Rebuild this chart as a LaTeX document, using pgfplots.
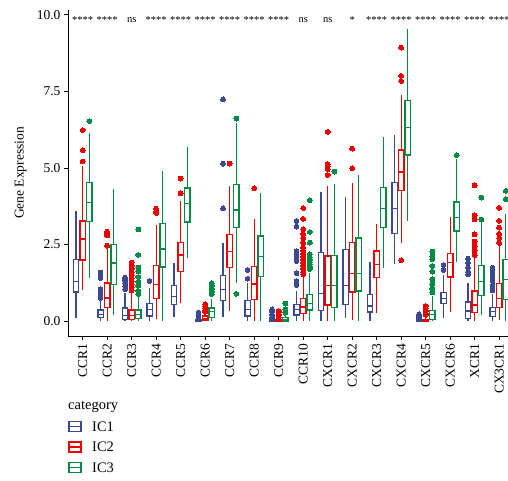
\documentclass[border=0pt]{standalone}
\usepackage{fontspec}
\setmainfont{Liberation Serif}
\usepackage{pgfplots}
\pgfplotsset{compat=1.18}
\usepgfplotslibrary{statistics}

\definecolor{icA}{HTML}{3B4992}
\definecolor{icB}{HTML}{EE0000}
\definecolor{icC}{HTML}{008B45}

% one box: colour, position, lower whisker, Q1, median, Q3, upper whisker, outliers
\newcommand{\bx}[8]{%
  \addplot[#1, line width=1.3pt, mark=*, mark size=2.4pt,
    mark options={fill=#1, draw=#1, line width=0pt},
    boxplot prepared={draw position=#2, lower whisker=#3, lower quartile=#4,
      median=#5, upper quartile=#6, upper whisker=#7}]
    table[row sep=\\, y index=0] {v\\ #8};}

\begin{document}
\begin{tikzpicture}[x=1pt,y=1pt]
\begin{axis}[
    at={(68pt,145pt)}, anchor=south west,
    scale only axis, width=440pt, height=326pt,
    xmin=-0.6, xmax=17.36, ymin=-0.49, ymax=10.16,
    axis x line*=bottom, axis y line*=left,
    axis line style={line width=0.9pt, black, -},
    tick align=outside, major tick length=4pt,
    tick style={line width=0.8pt, black},
    xtick={0,...,17},
    xticklabels={CCR1,CCR2,CCR3,CCR4,CCR5,CCR6,CCR7,CCR8,CCR9,CCR10,CXCR1,CXCR2,CXCR3,CXCR4,CXCR5,CXCR6,XCR1,CX3CR1},
    x tick label style={rotate=90, anchor=east},
    ytick={0,2.5,5,7.5,10},
    yticklabels={0.0,2.5,5.0,7.5,10.0},
    tick label style={font=\fontsize{13.5}{15}\selectfont},
    ylabel={Gene Expression},
    ylabel style={at={(axis description cs:-0.108,0.5)}, anchor=center, font=\fontsize{13.5}{15}\selectfont},
    boxplot/draw direction=y,
    boxplot/box extend=0.22,
    boxplot/whisker extend=0,
    boxplot/every box/.append style={fill=white},
]
% CCR1
\bx{icA}{-0.27}{0.09}{0.95}{1.30}{2.01}{3.58}{}
\bx{icB}{0}{1.02}{1.99}{2.68}{3.27}{5.05}{6.24\\ 5.58\\ 5.21\\}
\bx{icC}{0.27}{1.39}{3.24}{3.86}{4.52}{6.13}{6.53\\}
% CCR2
\bx{icA}{0.73}{0}{0.11}{0.22}{0.36}{0.71}{1.58\\ 1.52\\ 1.46\\ 1.40\\ 1.04\\ 0.96\\ 0.90\\ 0.85\\ 0.80\\ 0.75\\}
\bx{icB}{1}{0}{0.44}{0.75}{1.24}{2.35}{2.92\\ 2.85\\ 2.79\\ 2.46\\}
\bx{icC}{1.27}{0.19}{1.19}{1.89}{2.51}{4.32}{}
% CCR3
\bx{icA}{1.73}{0}{0.05}{0.19}{0.42}{0.93}{1.42\\ 1.36\\ 1.30\\ 1.24\\ 1.14\\ 1.04\\}
\bx{icB}{2}{0}{0.05}{0.19}{0.36}{0.93}{1.91\\ 1.80\\ 1.70\\ 1.60\\ 1.50\\ 1.40\\ 1.30\\ 1.20\\ 1.10\\ 1.00\\}
\bx{icC}{2.27}{0}{0.09}{0.22}{0.36}{0.82}{2.99\\ 2.16\\ 1.75\\ 1.61\\ 1.44\\ 1.28\\ 1.15\\ 0.98\\ 0.88\\}
% CCR4
\bx{icA}{2.73}{0}{0.16}{0.38}{0.57}{1.09}{1.31\\}
\bx{icB}{3}{0.05}{0.74}{1.20}{1.81}{3.14}{3.67\\ 3.58\\ 3.53\\}
\bx{icC}{3.27}{0}{1.76}{2.35}{3.18}{4.89}{}
% CCR5
\bx{icA}{3.73}{0.12}{0.54}{0.79}{1.17}{1.89}{}
\bx{icB}{4}{0.60}{1.61}{2.16}{2.56}{3.93}{4.65\\ 4.17\\}
\bx{icC}{4.27}{2.07}{3.23}{3.83}{4.34}{5.69}{}
% CCR6
\bx{icA}{4.73}{0}{0}{0.02}{0.05}{0.10}{0.27\\ 0.20\\ 0.15\\}
\bx{icB}{5}{0}{0.03}{0.09}{0.16}{0.27}{0.55\\ 0.48\\ 0.42\\ 0.35\\ 0.30\\}
\bx{icC}{5.27}{0}{0.11}{0.30}{0.42}{0.71}{1.23\\ 1.15\\ 1.05\\ 0.95\\ 0.88\\}
% CCR7
\bx{icA}{5.73}{0.14}{0.68}{1.03}{1.49}{2.56}{7.24\\ 5.14\\ 3.68\\}
\bx{icB}{6}{0.33}{1.74}{2.27}{2.82}{4.41}{5.14\\}
\bx{icC}{6.27}{1.23}{3.06}{3.63}{4.46}{6.48}{6.61\\ 0.89\\}
% CCR8
\bx{icA}{6.73}{0}{0.16}{0.38}{0.68}{1.25}{1.67\\ 1.38\\}
\bx{icB}{7}{0}{0.71}{1.21}{1.78}{3.32}{4.34\\}
\bx{icC}{7.27}{0}{1.45}{2.10}{2.78}{4.19}{}
% CCR9
\bx{icA}{7.73}{0}{0}{0.01}{0.04}{0.08}{0.38\\ 0.30\\ 0.20\\ 0.12\\}
\bx{icB}{8}{0}{0}{0.01}{0.04}{0.08}{0.33\\ 0.27\\ 0.20\\ 0.12\\}
\bx{icC}{8.27}{0}{0}{0.05}{0.11}{0.25}{0.57\\ 0.38\\ 0.27\\}
% CCR10
\bx{icA}{8.73}{0}{0.20}{0.38}{0.54}{0.98}{3.27\\ 3.08\\ 2.29\\ 2.20\\ 2.10\\ 1.96\\ 1.56\\ 1.31\\ 1.18\\}
\bx{icB}{9}{0}{0.25}{0.46}{0.74}{1.47}{3.69\\ 3.34\\ 3.00\\ 2.85\\ 2.70\\ 2.55\\ 2.40\\ 2.30\\ 2.20\\ 2.10\\ 2.00\\ 1.90\\ 1.80\\ 1.70\\ 1.60\\ 1.52\\}
\bx{icC}{9.27}{0}{0.36}{0.58}{0.86}{1.56}{3.94\\ 2.91\\ 2.56\\ 2.18\\ 2.09\\ 2.00\\ 1.92\\ 1.85\\ 1.78\\ 1.70\\}
% CXCR1
\bx{icA}{9.73}{0}{0.35}{0.90}{2.23}{4.22}{}
\bx{icB}{10}{0}{0.52}{1.17}{2.12}{4.41}{6.18\\ 5.12\\ 5.04\\ 4.96\\ 4.77\\}
\bx{icC}{10.27}{0}{0.44}{1.17}{2.15}{4.47}{4.88\\}
% CXCR2
\bx{icA}{10.73}{0.09}{0.54}{1.17}{2.34}{4.06}{}
\bx{icB}{11}{0.02}{0.95}{1.55}{2.56}{4.50}{5.63\\ 4.99\\}
\bx{icC}{11.27}{0}{0.98}{1.56}{2.71}{4.76}{}
% CXCR3
\bx{icA}{11.73}{0}{0.29}{0.49}{0.86}{1.94}{}
\bx{icB}{12}{0.27}{1.41}{1.84}{2.29}{3.16}{}
\bx{icC}{12.27}{1.73}{3.05}{3.67}{4.35}{6.02}{}
% CXCR4
\bx{icA}{12.73}{1.85}{2.86}{3.67}{4.53}{6.07}{}
\bx{icB}{13}{2.54}{4.27}{4.87}{5.59}{7.37}{8.93\\ 8.01\\ 7.84\\ 1.98\\}
\bx{icC}{13.27}{3.27}{5.42}{6.32}{7.21}{9.55}{}
% CXCR5
\bx{icA}{13.73}{0}{0}{0.01}{0.04}{0.08}{0.22\\ 0.17\\ 0.12\\}
\bx{icB}{14}{0}{0}{0.02}{0.06}{0.12}{0.49\\ 0.40\\ 0.33\\ 0.26\\ 0.20\\}
\bx{icC}{14.27}{0}{0.05}{0.22}{0.35}{0.82}{2.27\\ 2.12\\ 2.02\\ 1.80\\ 1.61\\ 1.36\\ 1.20\\ 1.05\\ 0.93\\}
% CXCR6
\bx{icA}{14.73}{0.11}{0.57}{0.73}{0.93}{1.49}{1.83\\ 1.66\\}
\bx{icB}{15}{0.30}{1.44}{1.91}{2.21}{3.40}{}
\bx{icC}{15.27}{1.93}{2.94}{3.39}{3.89}{5.28}{5.42\\}
% XCR1
\bx{icA}{15.73}{0}{0.09}{0.33}{0.62}{1.25}{2.04\\ 1.90\\ 1.75\\ 1.60\\ 1.52\\}
\bx{icB}{16}{0}{0.27}{0.52}{0.98}{2.05}{4.43\\ 3.45\\ 3.32\\ 2.83\\ 2.60\\ 2.45\\ 2.30\\ 2.15\\}
\bx{icC}{16.27}{0.19}{0.84}{1.29}{1.82}{3.20}{4.03\\ 3.31\\}
% CX3CR1
\bx{icA}{16.73}{0}{0.14}{0.31}{0.44}{0.87}{1.74\\ 1.60\\ 1.45\\ 1.30\\ 1.15\\ 1.00\\}
\bx{icB}{17}{0.03}{0.44}{0.73}{1.23}{2.47}{3.70\\ 3.27\\ 3.05\\ 2.85\\ 2.70\\ 2.55\\}
\bx{icC}{17.27}{0}{0.71}{1.36}{2.02}{3.49}{4.25\\ 3.98\\}

% significance
\foreach \p/\s in {0/****,1/****,2/ns,3/****,4/****,5/****,6/****,7/****,8/****,9/ns,10/ns,11/*,12/****,13/****,14/****,15/****,16/****,17/****}{
  \edef\tmp{\noexpand\node[font=\noexpand\fontsize{10.5}{11}\noexpand\selectfont, inner sep=0pt] at (axis cs:\p,9.84) {\s};}
  \tmp
}
\end{axis}

% legend
\node[anchor=west, font=\fontsize{14.5}{16}\selectfont, inner sep=0pt] at (68,74.5) {category};
\foreach \c/\t/\yy in {icA/IC1/54.3, icB/IC2/34, icC/IC3/13.5}{
  \draw[\c, line width=1.3pt, fill=white] (69,\yy-5) rectangle (81,\yy+5);
  \draw[\c, line width=1.3pt] (69,\yy) -- (81,\yy);
  \node[anchor=west, font=\fontsize{14.5}{16}\selectfont, inner sep=0pt] at (92,\yy) {\t};
}
\pgfresetboundingbox
\useasboundingbox (0,0) rectangle (508,481);
\end{tikzpicture}
\end{document}
